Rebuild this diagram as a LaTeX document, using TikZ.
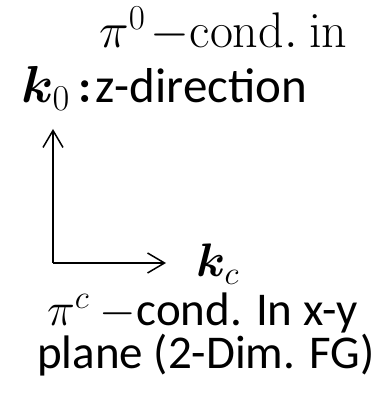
\RequirePackage{fix-cm}
\documentclass[tikz,border=0pt]{standalone}
\usepackage{amsmath,amssymb,bm}
\usepackage[no-math]{fontspec}
\setmainfont{Carlito}
\usetikzlibrary{arrows.meta, positioning}

\begin{document}
\begin{tikzpicture}[x=1pt, y=1pt, font=\fontsize{47}{54}\selectfont]
    \tikzstyle{txt} = [inner sep=0pt, anchor=base west]
    \tikzstyle{axis} = [line width=1.5pt, -{Straight Barb[length=17pt, width=20pt, line width=1.5pt]}]

    \useasboundingbox (0,0) rectangle (380,399);

    \coordinate (origin) at (53,136);
    \coordinate (ztip) at (53,270);
    \coordinate (ctip) at (166,136);

    \node (pizero) [txt, font=\fontsize{50}{60}\selectfont] at (99,351) {$\pi^{0}\mkern2mu{-}\mathrm{cond.\ in}$};
    \node (kzero) [txt, font=\fontsize{52}{60}\selectfont] at (21,296) {$\bm{k}_{0}$};
    \node (zdir) [txt, font=\fontsize{49}{60}\selectfont] at (77,296) {$\bm{:}$\hspace{3pt}z-direction};
    \node (kc) [txt] at (196,122) {$\bm{k}_{c}$};
    \node (pic) [txt] at (47,73) {$\pi^{c}$ $-$cond. In x-y};
    \node (plane) [txt] at (37,30) {plane (2-Dim. FG)};

    \draw [axis] (origin) -- (ztip);
    \draw [axis] (origin) -- (ctip);
\end{tikzpicture}
\end{document}
